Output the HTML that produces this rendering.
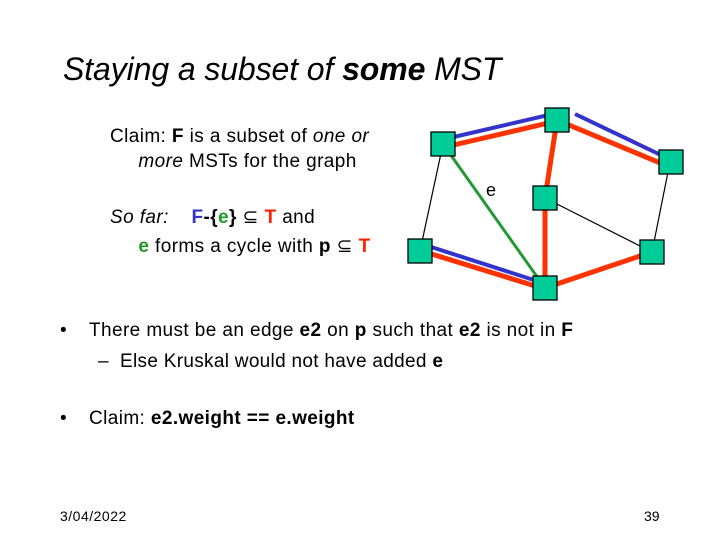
<html><body style="margin:0;width:720px;height:540px;background:#fff;position:relative;font-family:'Liberation Sans',sans-serif;overflow:hidden">
<div style="position:absolute;left:63px;top:51px;font-size:32px;font-style:italic;letter-spacing:-0.1px">Staying a subset of <b>some</b> MST</div>
<div style="position:absolute;left:110px;top:124px;font-size:19px;line-height:25px;letter-spacing:0.4px">Claim: <b>F</b> is a subset of <i>one or</i><br>&nbsp;&nbsp;&nbsp;&nbsp;&nbsp;<i>more</i> MSTs for the graph</div>
<div style="position:absolute;left:110px;top:203px;font-size:19px;line-height:29px;letter-spacing:0.4px"><i>So far:</i>&nbsp;&nbsp;&nbsp; <b style="color:#3333cc">F</b><b>-{<span style="color:#229922">e</span>}</b> ⊆ <b style="color:#ff2200">T</b> and<br>&nbsp;&nbsp;&nbsp;&nbsp;&nbsp;<b style="color:#229922">e</b> forms a cycle with <b>p</b> ⊆ <b style="color:#ff2200">T</b></div>
<svg style="position:absolute;left:0;top:0" width="720" height="540">
<g stroke-linecap="butt">
<line x1="443" y1="144" x2="420" y2="251" stroke="#000" stroke-width="1.2"/>
<line x1="545" y1="198" x2="652" y2="252" stroke="#000" stroke-width="1.2"/>
<line x1="670" y1="162" x2="652" y2="252" stroke="#000" stroke-width="1.2"/>
<line x1="443" y1="144" x2="545" y2="288" stroke="#229933" stroke-width="3"/>
<line x1="445" y1="139" x2="557" y2="113" stroke="#3333cc" stroke-width="4"/>
<line x1="445" y1="147" x2="557" y2="121" stroke="#ff3300" stroke-width="5"/>
<line x1="575" y1="114" x2="665" y2="157" stroke="#3333cc" stroke-width="4"/>
<line x1="557" y1="120" x2="665" y2="165" stroke="#ff3300" stroke-width="5"/>
<line x1="557" y1="120" x2="545" y2="198" stroke="#ff3300" stroke-width="5"/>
<line x1="545" y1="198" x2="545" y2="288" stroke="#ff3300" stroke-width="5"/>
<line x1="425" y1="245" x2="540" y2="282" stroke="#3333cc" stroke-width="4"/>
<line x1="425" y1="252" x2="545" y2="289" stroke="#ff3300" stroke-width="5"/>
<line x1="545" y1="288" x2="652" y2="252" stroke="#ff3300" stroke-width="5"/>
</g>
<g fill="#00cc99" stroke="#000" stroke-width="1.3">
<rect x="431" y="132" width="24" height="24"/>
<rect x="545" y="108" width="24" height="24"/>
<rect x="659" y="150" width="24" height="24"/>
<rect x="533" y="186" width="24" height="24"/>
<rect x="408" y="239" width="24" height="24"/>
<rect x="533" y="276" width="24" height="24"/>
<rect x="640" y="240" width="24" height="24"/>
</g>
<text x="486" y="196" font-size="18" font-family="Liberation Sans">e</text>
</svg>
<div style="position:absolute;left:60px;top:320px;font-size:19px">•</div>
<div style="position:absolute;left:89px;top:320px;font-size:19px;letter-spacing:0.4px">There must be an edge <b>e2</b> on <b>p</b> such that <b>e2</b> is not in <b>F</b></div>
<div style="position:absolute;left:98px;top:351px;font-size:19px;letter-spacing:0.3px">– &nbsp;Else Kruskal would not have added <b>e</b></div>
<div style="position:absolute;left:60px;top:408px;font-size:19px">•</div>
<div style="position:absolute;left:89px;top:408px;font-size:19px;letter-spacing:0.4px">Claim: <b>e2.weight == e.weight</b></div>
<div style="position:absolute;left:60px;top:508px;font-size:14px;letter-spacing:0.5px">3/04/2022</div>
<div style="position:absolute;left:644px;top:508px;font-size:14px">39</div>
</body></html>
